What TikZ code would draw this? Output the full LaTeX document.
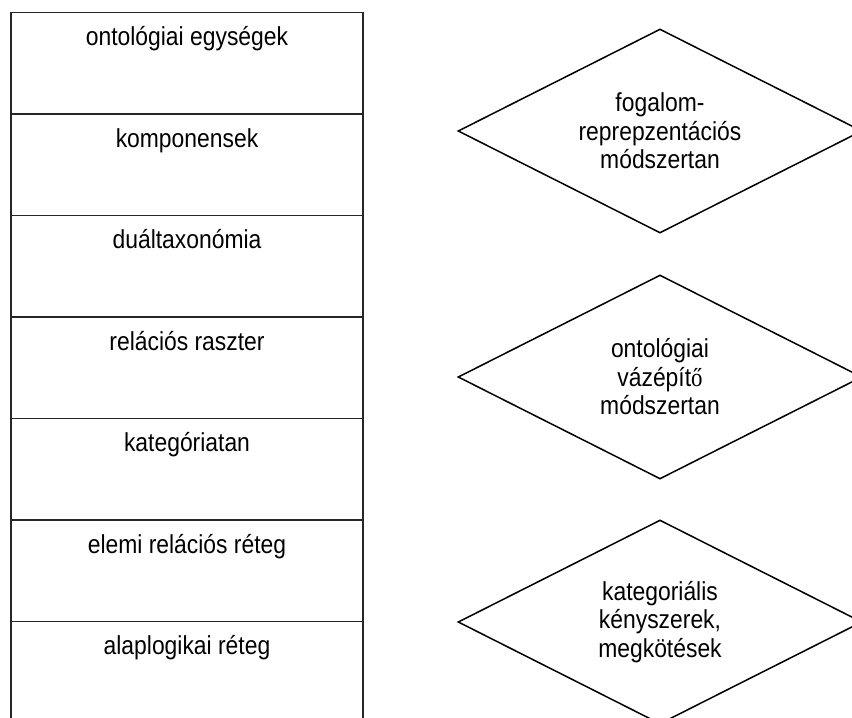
\documentclass[tikz,border=0pt]{standalone}
\usepackage{fontspec}
\setmainfont[FakeStretch=0.88]{Liberation Sans}
\newfontfamily\serifglyph[FakeStretch=0.88]{Liberation Serif}
\usetikzlibrary{shapes.geometric}
\begin{document}
\begin{tikzpicture}[x=1pt,y=-1pt,
  layerbox/.style={draw=black!85, line width=1.8pt, rectangle, inner sep=0pt,
    minimum width=352pt, minimum height=101.5pt},
  layertext/.style={anchor=base, inner sep=0pt, font=\fontsize{26}{28.5}\selectfont},
  methodbox/.style={draw=black, line width=1.5pt, diamond, inner sep=0pt,
    minimum width=404pt, minimum height=204pt},
  methodtext/.style={align=center, inner sep=0pt, font=\fontsize{26}{28.5}\selectfont}]
\useasboundingbox (0,0) rectangle (852,718);
\clip (0,0) rectangle (852,718);
\fill[white] (0,0) rectangle (852,718);

% stacked layers, top to bottom
\foreach \name/\txt [count=\k from 0] in {
    l1/ontológiai egységek,
    l2/komponensek,
    l3/duáltaxonómia,
    l4/relációs raszter,
    l5/kategóriatan,
    l6/elemi relációs réteg,
    l7/alaplogikai réteg} {
  \node[layerbox] (\name) at (187, 63.25+101.5*\k) {};
  \node[layertext] (\name t) at ([yshift=-34pt]\name.north) {\txt};
}

% methodology diamonds
\node[methodbox] (d1) at (660,131) {};
\node[methodtext] (d1t) at (d1.center) {fogalom-\\reprepzentációs\\módszertan};
\node[methodbox] (d2) at (660,377) {};
\node[methodtext] (d2t) at (d2.center) {ontológiai\\vázépít{\serifglyph ő}\\módszertan};
\node[methodbox] (d3) at (660,622) {};
\node[methodtext] (d3t) at (d3.center) {kategoriális\\kényszerek,\\megkötések};
\end{tikzpicture}
\end{document}
